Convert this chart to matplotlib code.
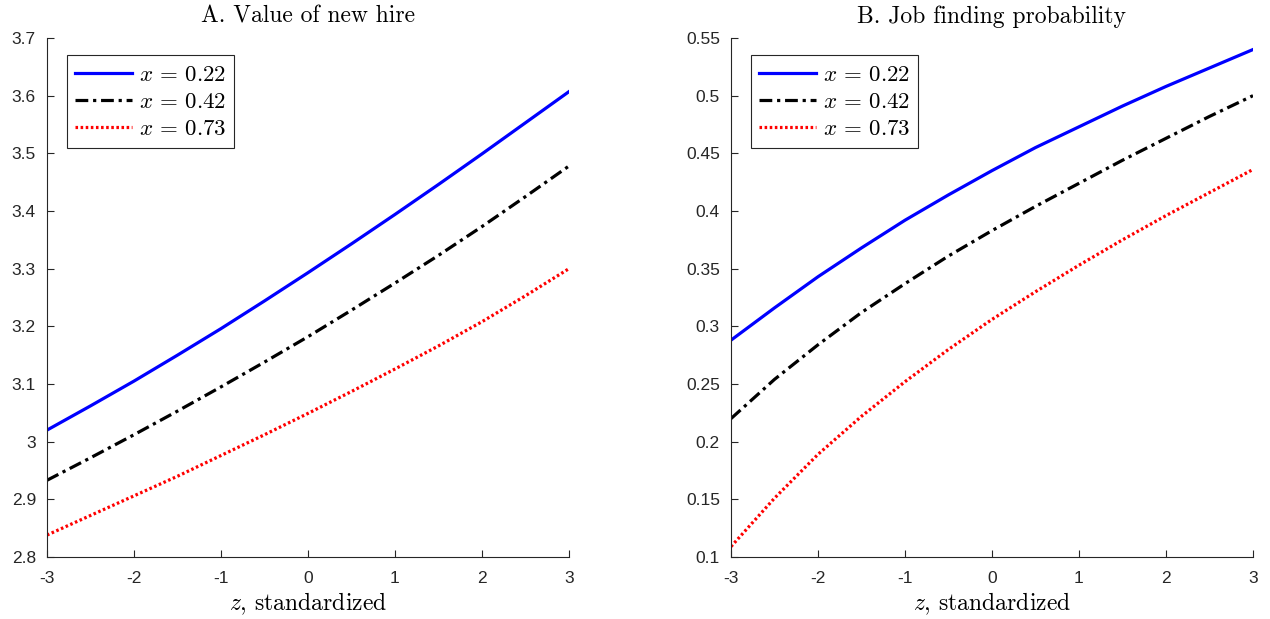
import numpy as np
import matplotlib
matplotlib.use("Agg")
import matplotlib.pyplot as plt

plt.rcParams['mathtext.fontset'] = 'cm'
plt.rcParams['font.family'] = ['Liberation Sans', 'DejaVu Sans']

# data
z = [-3, -2.5, -2, -1.5, -1, -0.5, 0, 0.5, 1, 1.5, 2, 2.5, 3]
labels = [r'$x\,=\,0.22$', r'$x\,=\,0.42$', r'$x\,=\,0.73$']

value_022 = [3.020, 3.062, 3.105, 3.150, 3.196, 3.244, 3.293, 3.343, 3.394, 3.446, 3.499, 3.553, 3.607]
value_042 = [2.933, 2.972, 3.012, 3.053, 3.095, 3.138, 3.182, 3.228, 3.275, 3.323, 3.373, 3.425, 3.478]
value_073 = [2.838, 2.872, 2.906, 2.940, 2.976, 3.012, 3.049, 3.087, 3.126, 3.166, 3.208, 3.253, 3.300]

jf_022 = [0.288, 0.316, 0.343, 0.368, 0.392, 0.414, 0.435, 0.455, 0.473, 0.491, 0.508, 0.524, 0.540]
jf_042 = [0.220, 0.254, 0.284, 0.312, 0.337, 0.361, 0.383, 0.404, 0.424, 0.444, 0.463, 0.482, 0.500]
jf_073 = [0.109, 0.151, 0.189, 0.222, 0.252, 0.280, 0.306, 0.330, 0.353, 0.375, 0.396, 0.416, 0.436]

xticks = [-3, -2, -1, 0, 1, 2, 3]
xticklabels = ['-3', '-2', '-1', '0', '1', '2', '3']
yticks_a = [2.8, 2.9, 3.0, 3.1, 3.2, 3.3, 3.4, 3.5, 3.6, 3.7]
yticklabels_a = ['2.8', '2.9', '3', '3.1', '3.2', '3.3', '3.4', '3.5', '3.6', '3.7']
yticks_b = [0.1, 0.15, 0.2, 0.25, 0.3, 0.35, 0.4, 0.45, 0.5, 0.55]
yticklabels_b = ['0.1', '0.15', '0.2', '0.25', '0.3', '0.35', '0.4', '0.45', '0.5', '0.55']

fig = plt.figure(figsize=(12.7, 6.19), dpi=100)
ax1 = fig.add_axes([0.0370, 0.1002, 0.4110, 0.8384])
ax2 = fig.add_axes([0.5756, 0.1002, 0.4110, 0.8384])

styles = [dict(color='#0000ff', linestyle='-', linewidth=2.3),
          dict(color='black', linestyle=(0, (4, 1.5, 1, 1.5)), linewidth=2.3),
          dict(color='#ff0000', linestyle=(0, (0.8, 0.8)), linewidth=2.3)]


def setup(ax, series, title, yticks, ylabels):
    for s, lab, st in zip(series, labels, styles):
        ax.plot(z, s, label=lab, **st)
    ax.set_xlim(-3, 3)
    ax.set_ylim(yticks[0], yticks[-1])
    ax.set_xticks(xticks)
    ax.set_xticklabels(xticklabels)
    ax.set_yticks(yticks)
    ax.set_yticklabels(ylabels)
    for side in ['top', 'right']:
        ax.spines[side].set_visible(False)
    for side in ['left', 'bottom']:
        ax.spines[side].set_color('#262626')
        ax.spines[side].set_linewidth(0.8)
    ax.tick_params(direction='in', length=5, width=0.8, colors='#262626',
                   labelsize=12.5)
    ax.tick_params(axis='x', pad=10)
    ax.tick_params(axis='y', pad=8)
    ax.set_title(title, family='cmr10', fontsize=17, pad=11)
    ax.set_xlabel(r'$z$, standardized', family='cmr10', fontsize=17, labelpad=3)
    leg = ax.legend(loc='upper left', bbox_to_anchor=(0.038, 0.967),
                    borderaxespad=0, fontsize=16.5, handlelength=2.5,
                    handletextpad=0.3, labelspacing=0.18, fancybox=False,
                    framealpha=1, borderpad=0.35)
    leg.get_frame().set_edgecolor('#262626')
    leg.get_frame().set_linewidth(0.8)


setup(ax1, [value_022, value_042, value_073], 'A. Value of new hire', yticks_a, yticklabels_a)
setup(ax2, [jf_022, jf_042, jf_073], 'B. Job finding probability', yticks_b, yticklabels_b)

fig.savefig('out.png', dpi=100)
